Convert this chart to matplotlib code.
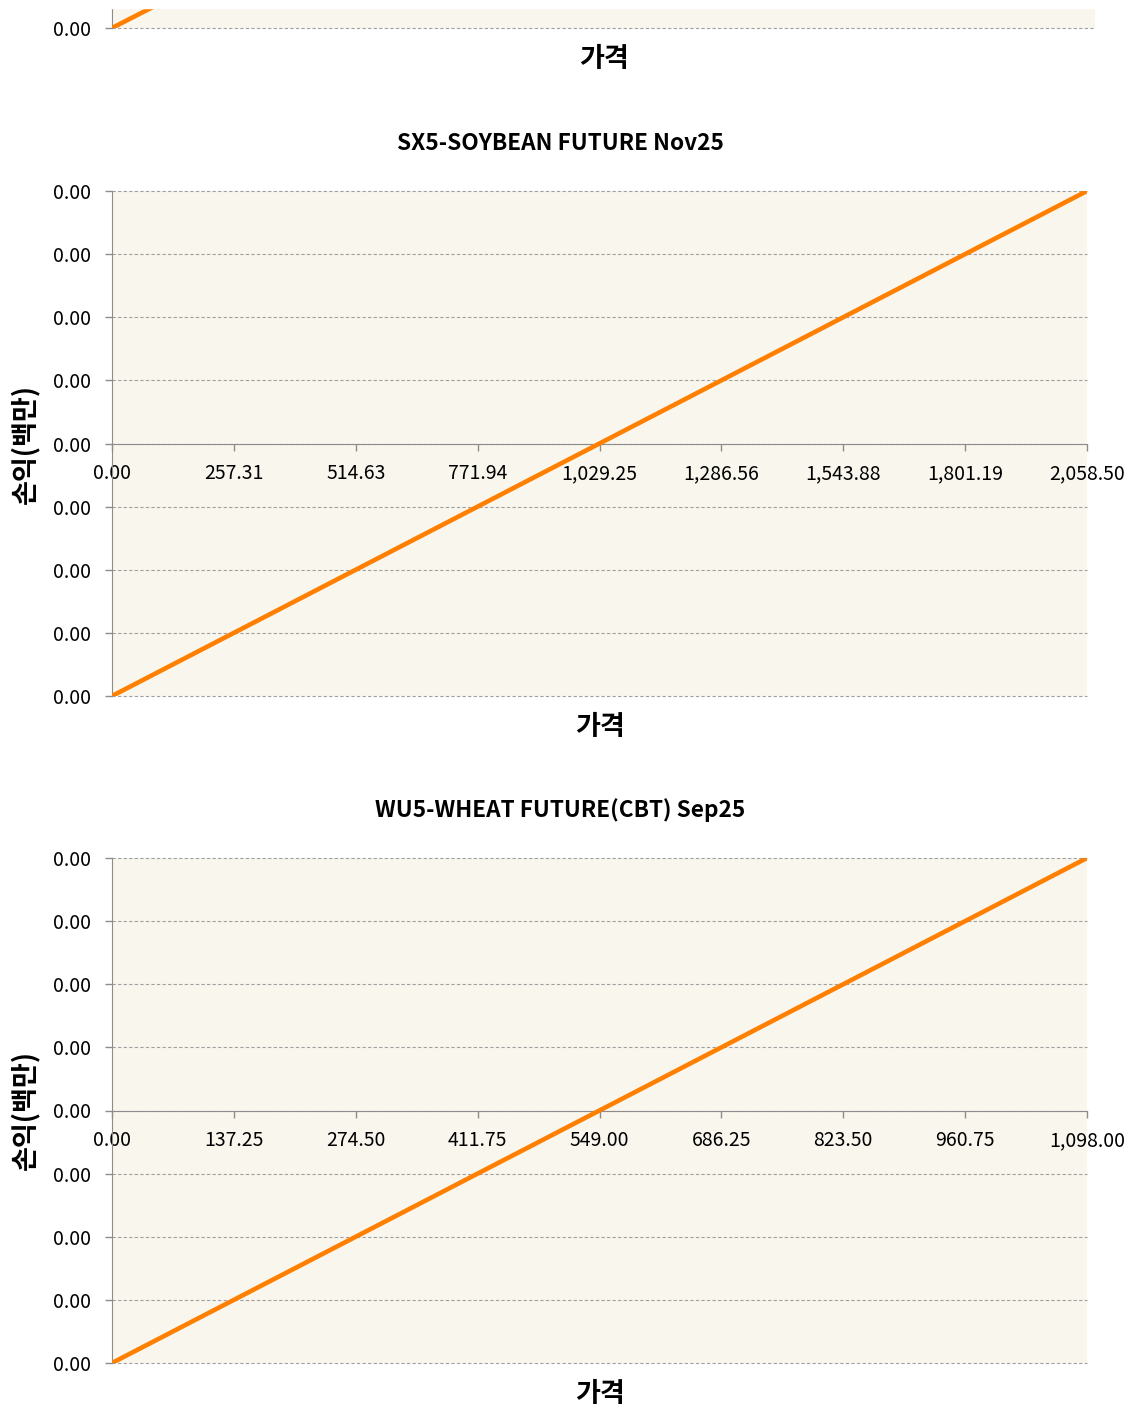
import matplotlib
matplotlib.use("Agg")
import matplotlib.pyplot as plt
from matplotlib.patches import Rectangle

plt.rcParams['font.family'] = ['Noto Sans CJK KR', 'DejaVu Sans']

# P&L lines (price, profit in millions) - values are tiny, all labels read 0.00
top_price = [0.0, 1000.0]
top_pnl = [-0.004, 0.004]

soy_title = "SX5-SOYBEAN FUTURE Nov25"
soy_price = [0.0, 2058.50]
soy_pnl = [-0.004, 0.004]
soy_ticks = [0.00, 257.31, 514.63, 771.94, 1029.25, 1286.56, 1543.88, 1801.19, 2058.50]

wheat_title = "WU5-WHEAT FUTURE(CBT) Sep25"
wheat_price = [0.0, 1098.00]
wheat_pnl = [-0.004, 0.004]
wheat_ticks = [0.00, 137.25, 274.50, 411.75, 549.00, 686.25, 823.50, 960.75, 1098.00]

y_ticks = [-0.004, -0.003, -0.002, -0.001, 0.0, 0.001, 0.002, 0.003, 0.004]
y_labels = ["0.00"] * len(y_ticks)

x_label = "가격"
y_label = "손익(백만)"

W, H = 1131, 1410
fig = plt.figure(figsize=(W / 100, H / 100), dpi=100)

bg = '#F9F6EE'
axis_col = '#8C8C8C'
grid_col = '#A0A0A0'
orange = '#FF8000'


def style_axes(ax, price, pnl):
    ax.set_facecolor(bg)
    ax.plot(price, pnl, color=orange, lw=3.3, solid_capstyle='butt', zorder=3)
    ax.set_xlim(price[0], price[-1])
    ax.set_ylim(y_ticks[0], y_ticks[-1])
    for s in ['top', 'right']:
        ax.spines[s].set_visible(False)
    ax.spines['left'].set_color(axis_col)
    ax.spines['bottom'].set_color(axis_col)
    ax.spines['bottom'].set_position(('data', 0))
    ax.grid(axis='y', color=grid_col, linestyle=(0, (3, 2)), lw=0.8)
    ax.set_axisbelow(True)
    ax.tick_params(axis='both', colors=axis_col, labelcolor='black',
                   labelsize=14, length=5, width=1)
    ax.tick_params(axis='x', pad=9)
    ax.tick_params(axis='y', pad=10)
    ax.text(0.5, -0.062, x_label, transform=ax.transAxes, ha='center', va='center',
            fontsize=19.5, fontweight='bold')


def unclip_grid(ax):
    # so the dashed lines on the plot edges show in full
    for gl in ax.get_ygridlines():
        gl.set_clip_on(False)


def draw_chart(rect, price, pnl, ticks, title):
    ax = fig.add_axes(rect)
    style_axes(ax, price, pnl)
    ax.set_xticks(ticks)
    ax.set_xticklabels([f"{t:,.2f}" for t in ticks])
    ax.set_yticks(y_ticks)
    ax.set_yticklabels(y_labels)
    unclip_grid(ax)
    ax.text(-0.089, 0.5, y_label, transform=ax.transAxes, ha='center', va='center',
            rotation=90, fontsize=19.5, fontweight='bold')
    x0, y0, w, h = rect
    fig.text(560 / W, y0 + h + 48 / H, title, ha='center', va='center',
             fontsize=16.3, fontweight='bold')
    return ax


ph = 505 / H

# previous chart, cut off at the top of the page: only its bottom row shows
ax1 = fig.add_axes([112 / W, 1 - 28 / H, 983 / W, ph])
style_axes(ax1, top_price, top_pnl)
ax1.set_xticks([])
ax1.set_yticks(y_ticks[:1])
ax1.set_yticklabels(y_labels[:1])
unclip_grid(ax1)

draw_chart([112 / W, 1 - 696 / H, 975 / W, ph], soy_price, soy_pnl, soy_ticks, soy_title)
draw_chart([112 / W, 1 - 1363 / H, 975 / W, ph], wheat_price, wheat_pnl, wheat_ticks, wheat_title)

# white strip at the very top where the previous chart is cut off
fig.add_artist(Rectangle((0, 1 - 8 / H), 1, 8 / H, transform=fig.transFigure,
                         color='white', zorder=20))

fig.savefig('out.png', dpi=100)
